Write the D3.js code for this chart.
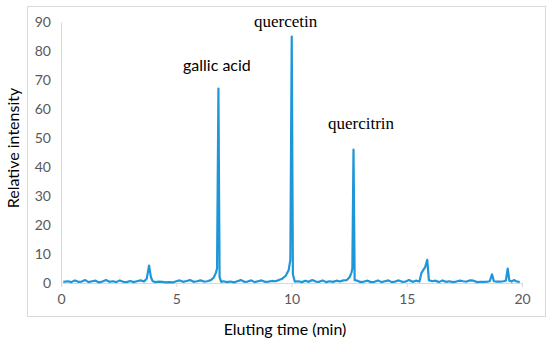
<!DOCTYPE html>
<html>
<head>
<meta charset="utf-8">
<script src="https://cdn.jsdelivr.net/npm/d3@7"></script>
<style>
  body { margin: 0; background: #fff; }
  svg { display: block; }
</style>
</head>
<body>
<script>
const width = 550
const height = 345

// chromatogram (time in min, relative intensity)
const time = [0.10, 0.30, 0.45, 0.60, 0.75, 0.90, 1.05, 1.20, 1.35, 1.50, 1.65, 1.80, 1.95, 2.10, 2.25, 2.40,
  2.55, 2.70, 2.85, 3.00, 3.15, 3.30, 3.45, 3.60, 3.72, 3.82, 3.90, 3.98, 4.10, 4.25, 4.40, 4.55, 4.70,
  4.85, 5.00, 5.15, 5.30, 5.45, 5.60, 5.75, 5.90, 6.05, 6.20, 6.35, 6.50, 6.62, 6.72, 6.77, 6.83, 6.88,
  6.95, 7.05, 7.20, 7.35, 7.50, 7.65, 7.80, 7.95, 8.10, 8.25, 8.40, 8.55, 8.70, 8.85, 9.00, 9.15, 9.30,
  9.45, 9.60, 9.75, 9.88, 9.95, 10.01, 10.06, 10.14, 10.30, 10.45, 10.60, 10.75, 10.90, 11.05, 11.20,
  11.35, 11.50, 11.65, 11.80, 11.95, 12.10, 12.25, 12.40, 12.52, 12.60, 12.64, 12.69, 12.74, 12.85, 13.00,
  13.15, 13.30, 13.45, 13.60, 13.75, 13.90, 14.05, 14.20, 14.35, 14.50, 14.65, 14.80, 14.95, 15.10, 15.25,
  15.40, 15.55, 15.64, 15.72, 15.80, 15.89, 15.96, 16.10, 16.25, 16.40, 16.55, 16.70, 16.85, 17.00, 17.15,
  17.30, 17.45, 17.60, 17.75, 17.90, 18.05, 18.20, 18.35, 18.50, 18.60, 18.70, 18.78, 18.90, 19.05, 19.20,
  19.30, 19.38, 19.45, 19.55, 19.65, 19.75, 19.90]
const intensity = [0.4, 0.6, 0.3, 0.9, 0.4, 0.5, 1.0, 0.3, 0.6, 0.8, 0.2, 0.5, 1.0, 0.4, 0.6, 0.3,
  0.9, 0.4, 0.3, 0.7, 0.3, 0.6, 0.9, 0.5, 1.5, 6.0, 2.0, 0.6, 0.3, 0.5, 0.4, 0.2, 0.3,
  0.2, 0.6, 0.9, 0.4, 0.7, 1.0, 0.4, 0.6, 0.9, 0.5, 0.6, 1.0, 1.8, 3.5, 5.0, 67, 2.0,
  0.4, 0.6, 0.3, 0.5, 0.2, 0.6, 1.0, 0.4, 0.5, 0.9, 0.3, 0.6, 0.9, 0.4, 0.5, 0.7, 0.6,
  1.0, 1.5, 2.5, 4.5, 8.0, 85, 3.0, 0.5, 0.6, 0.3, 0.8, 0.4, 1.0, 0.5, 0.4,
  0.9, 0.3, 0.6, 0.4, 0.8, 0.5, 0.9, 1.0, 2.0, 3.5, 5.0, 46, 1.0, 0.8, 0.3,
  0.5, 0.8, 0.3, 0.4, 0.9, 0.3, 0.6, 0.9, 0.3, 0.5, 0.9, 0.4, 0.5, 1.0, 0.4,
  0.8, 0.5, 3.5, 4.5, 5.5, 8.0, 1.0, 0.6, 0.8, 0.3, 0.9, 0.4, 0.6, 0.3, 0.5,
  0.8, 0.6, 0.5, 0.9, 0.8, 0.3, 0.4, 0.4, 0.5, 0.6, 3.0, 0.6, 0.5, 0.5, 0.6,
  0.8, 5.0, 0.8, 0.5, 1.0, 0.6, 0.3, 0.5]

const xTicks = [0, 5, 10, 15, 20]
const yTicks = [0, 10, 20, 30, 40, 50, 60, 70, 80, 90]

const peakNames = ["gallic acid", "quercetin", "quercitrin"]

const data = time.map((t, i) => ({t, v: intensity[i]}))

const sans = "Lato, 'Open Sans', sans-serif"
const serif = "'Liberation Serif', 'DejaVu Serif', serif"

const x = d3.scaleLinear().domain([0, 20]).range([61, 522])
const y = d3.scaleLinear().domain([0, 90]).range([283, 22])

const svg = d3.select("body").append("svg")
    .attr("width", width)
    .attr("height", height)

// outer chart frame
svg.append("rect")
    .attr("x", 27.5).attr("y", 6.5)
    .attr("width", 518).attr("height", 310)
    .attr("fill", "none")
    .attr("stroke", "#d9d9d9")

// y axis
svg.append("g")
    .attr("transform", `translate(${x(0)},0)`)
    .call(d3.axisLeft(y).tickValues(yTicks).tickSize(0).tickPadding(10))
    .call(g => g.select(".domain").attr("stroke", "#d9d9d9"))
    .call(g => g.selectAll("text").attr("fill", "#595959")
        .attr("font-family", sans).attr("font-size", 14))

// x axis
svg.append("g")
    .attr("transform", `translate(0,${y(0)})`)
    .call(d3.axisBottom(x).tickValues(xTicks).tickSize(4).tickSizeOuter(0).tickPadding(7))
    .call(g => g.select(".domain").attr("stroke", "#d9d9d9"))
    .call(g => g.selectAll("line").attr("stroke", "#d9d9d9"))
    .call(g => g.selectAll("text").attr("fill", "#595959")
        .attr("font-family", sans).attr("font-size", 14))

// chromatogram trace
svg.append("path")
    .datum(data)
    .attr("fill", "none")
    .attr("stroke", "#1e96d8")
    .attr("stroke-width", 2.2)
    .attr("stroke-linejoin", "round")
    .attr("d", d3.line().x(d => x(d.t)).y(d => y(d.v)))

// axis titles
svg.append("text")
    .attr("x", 285).attr("y", 335)
    .attr("text-anchor", "middle")
    .attr("font-family", sans).attr("font-size", 16)
    .text("Eluting time (min)")

svg.append("text")
    .attr("transform", "translate(19,148) rotate(-90)")
    .attr("text-anchor", "middle")
    .attr("font-family", sans).attr("font-size", 16)
    .text("Relative intensity")

// peak labels
svg.append("text")
    .attr("x", 183).attr("y", 71)
    .attr("font-family", sans).attr("font-size", 16)
    .text(peakNames[0])

svg.append("text")
    .attr("x", 254).attr("y", 27)
    .attr("font-family", serif).attr("font-size", 17)
    .text(peakNames[1])

svg.append("text")
    .attr("x", 328).attr("y", 129)
    .attr("font-family", serif).attr("font-size", 17)
    .text(peakNames[2])
</script>
</body>
</html>
